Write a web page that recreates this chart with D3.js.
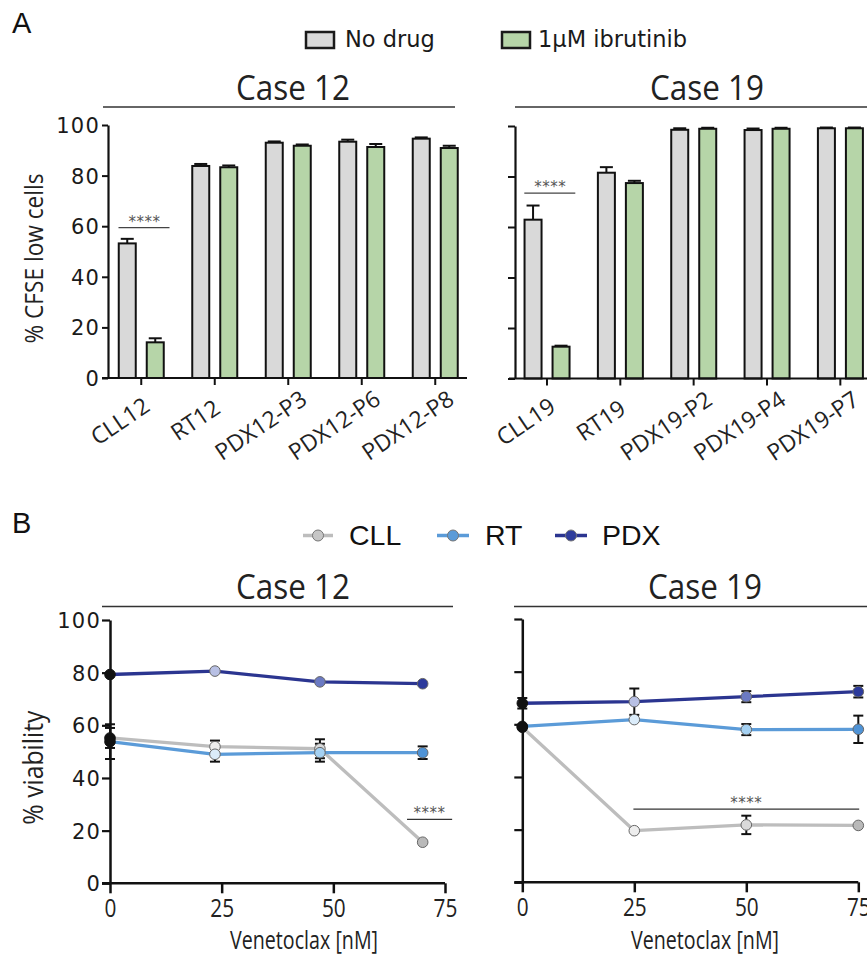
<!DOCTYPE html>
<html>
<head>
<meta charset="utf-8">
<script src="https://cdn.jsdelivr.net/npm/d3@7"></script>
<style>
html,body{margin:0;padding:0;background:#fff;}
svg{display:block;}
</style>
</head>
<body>
<script>
// ---------------- DATA ----------------
// Panel A: % CFSE low cells
const catsA12 = ["CLL12", "RT12", "PDX12-P3", "PDX12-P6", "PDX12-P8"];
const noDrug12 = [53.2, 83.8, 93.0, 93.4, 94.6];
const noDrug12Err = [1.8, 0.8, 0.5, 0.8, 0.5];
const ibru12 = [14.1, 83.3, 91.8, 91.3, 90.9];
const ibru12Err = [1.6, 0.7, 0.5, 1.2, 0.9];

const catsA19 = ["CLL19", "RT19", "PDX19-P2", "PDX19-P4", "PDX19-P7"];
const noDrug19 = [62.9, 81.5, 98.5, 98.4, 99.1];
const noDrug19Err = [5.6, 2.2, 0.6, 0.6, 0.3];
const ibru19 = [12.6, 77.4, 98.9, 98.9, 99.1];
const ibru19Err = [0.4, 0.9, 0.4, 0.4, 0.3];

const yTicksA = [0, 20, 40, 60, 80, 100];
const legendA = ["No drug", "1\u03bcM ibrutinib"];

// Panel B: % viability vs venetoclax
const dose12 = [0, 23.5, 47, 70];
const dose19 = [0, 25, 50, 75];
const cll12 = [55.2, 51.9, 51.1, 15.6];
const cll12Err = [3.8, 2.3, 3.6, 0.5];
const rt12 = [53.8, 49.0, 49.6, 49.6];
const rt12Err = [6.6, 2.8, 3.4, 2.4];
const pdx12 = [79.3, 80.6, 76.5, 75.8];
const pdx12Err = [0.8, 0.6, 0.8, 0.6];

const cll19 = [58.9, 19.6, 21.8, 21.6];
const cll19Err = [0.5, 0.5, 3.5, 0.6];
const rt19 = [59.2, 61.8, 58.0, 58.1];
const rt19Err = [0.5, 0.8, 2.1, 5.2];
const pdx19 = [68.0, 68.6, 70.5, 72.4];
const pdx19Err = [2.0, 5.0, 2.1, 2.2];

const xTicksB = [0, 25, 50, 75];
const yTicksB = [0, 20, 40, 60, 80, 100];
const seriesB = ["CLL", "RT", "PDX"];

// ---------------- STYLE ----------------
const C = {
  grayBar: "#d9d9d9",
  greenBar: "#b6d5a8",
  cllLine: "#bdbdbd",
  rtLine: "#5b9bd8",
  pdxLine: "#2b3590",
  cllFill: ["#111111", "#ededed", "#dadada", "#b9b9b9"],
  rtFill: ["#111111", "#dbecfa", "#a5d1f2", "#4f93d6"],
  pdxFill: ["#111111", "#b8c0e4", "#6b7ac3", "#2c3a9c"]
};
const ROUND = "'DejaVu Sans', sans-serif";
const HUM = "'Open Sans', sans-serif";
const ARIAL = "'Liberation Sans', Arial, sans-serif";
const INK = "#1a1a1a";

const W = 867, H = 956;
const svg = d3.select("body").append("svg").attr("width", W).attr("height", H);

function condense(sel, target) {
  sel.each(function () {
    const t = d3.select(this);
    const len = this.getComputedTextLength();
    const L = typeof target === "function" ? target(len) : target;
    t.attr("textLength", L).attr("lengthAdjust", "spacingAndGlyphs");
  });
}

// panel letters
svg.append("text").attr("x", 12).attr("y", 33).text("A")
  .attr("font-family", ARIAL).attr("font-size", 29).attr("fill", "#111");
svg.append("text").attr("x", 12).attr("y", 533).text("B")
  .attr("font-family", ARIAL).attr("font-size", 29).attr("fill", "#111");

// ---------------- PANEL A legend ----------------
const legA = svg.append("g");
const legAPos = [{bx: 306, tx: 345, fill: C.grayBar}, {bx: 502, tx: 538, fill: C.greenBar}];
legendA.forEach((lab, i) => {
  legA.append("rect").attr("x", legAPos[i].bx).attr("y", 32).attr("width", 28).attr("height", 16)
    .attr("fill", legAPos[i].fill).attr("stroke", "#1a1a1a").attr("stroke-width", 2.5);
  legA.append("text").attr("x", legAPos[i].tx).attr("y", 47).text(lab)
    .attr("font-family", ROUND).attr("font-size", 22.5).attr("fill", INK);
});

// ---------------- PANEL A charts ----------------
const panelsA = [
  {cats: catsA12, nd: noDrug12, ndE: noDrug12Err, ib: ibru12, ibE: ibru12Err,
   range: [104.5, 472], axisX: 108, yTop: 125, yBot: 378, axisEnd: 467,
   title: "Case 12", titleX: 293, tl: [103, 455], labels: true, sigVal: 59.4},
  {cats: catsA19, nd: noDrug19, ndE: noDrug19Err, ib: ibru19, ibE: ibru19Err,
   range: [510.3, 877], axisX: 515, yTop: 126, yBot: 378.5, axisEnd: 870,
   title: "Case 19", titleX: 707, tl: [515, 870], labels: false, sigVal: 73.4}
];

panelsA.forEach(p => {
  const g = svg.append("g");
  const x = d3.scaleBand().domain(p.cats).range(p.range);
  const xs = d3.scaleBand().domain(["nd", "ib"]).range([14.25, 59.25]).paddingInner(11 / 28);
  const y = d3.scaleLinear().domain([0, 100]).range([p.yBot, p.yTop]);

  // title + line
  const tt = g.append("text").attr("x", p.titleX).attr("y", 100).attr("text-anchor", "middle")
    .text(p.title).attr("font-family", HUM).attr("font-size", 35).attr("fill", "#222");
  condense(tt, 114);
  g.append("line").attr("x1", p.tl[0]).attr("x2", p.tl[1]).attr("y1", 107).attr("y2", 107)
    .attr("stroke", "#333").attr("stroke-width", 1.5);

  const rows = p.cats.map((c, i) => ({c, i}));
  const series = [
    {key: "nd", vals: p.nd, errs: p.ndE, fill: C.grayBar},
    {key: "ib", vals: p.ib, errs: p.ibE, fill: C.greenBar}
  ];
  series.forEach(s => {
    const eg = g.append("g");
    rows.forEach(r => {
      const cx = x(r.c) + xs(s.key) + xs.bandwidth() / 2;
      const top = y(s.vals[r.i] + s.errs[r.i]);
      eg.append("line").attr("x1", cx).attr("x2", cx).attr("y1", y(s.vals[r.i])).attr("y2", top)
        .attr("stroke", "#111").attr("stroke-width", 2);
      eg.append("line").attr("x1", cx - 6.5).attr("x2", cx + 6.5).attr("y1", top).attr("y2", top)
        .attr("stroke", "#111").attr("stroke-width", 2);
    });
    g.append("g").selectAll("rect").data(rows).join("rect")
      .attr("x", r => x(r.c) + xs(s.key))
      .attr("y", r => y(s.vals[r.i]))
      .attr("width", xs.bandwidth())
      .attr("height", r => y(0) - y(s.vals[r.i]))
      .attr("fill", s.fill).attr("stroke", "#111").attr("stroke-width", 2);
  });

  // y axis
  const ya = g.append("g").attr("transform", `translate(${p.axisX},0)`)
    .call(d3.axisLeft(y).tickValues(yTicksA).tickSize(p.labels ? 6 : 7).tickSizeOuter(0).tickPadding(2)
      .tickFormat(p.labels ? d3.format("d") : () => ""));
  ya.select(".domain").attr("stroke", "#111").attr("stroke-width", 2.2);
  ya.selectAll(".tick line").attr("stroke", "#111").attr("stroke-width", 2);
  ya.selectAll(".tick text").attr("font-family", ROUND).attr("font-size", 21)
    .attr("fill", INK).attr("letter-spacing", 1.2).attr("dy", "0.36em");

  // x axis
  g.append("line").attr("x1", p.axisX - 6).attr("x2", p.axisEnd).attr("y1", y(0)).attr("y2", y(0))
    .attr("stroke", "#111").attr("stroke-width", 2.2);
  const xa = g.append("g").attr("transform", `translate(0,${y(0)})`)
    .call(d3.axisBottom(x).tickSize(7).tickSizeOuter(0).tickPadding(4));
  xa.select(".domain").remove();
  xa.selectAll(".tick line").attr("stroke", "#111").attr("stroke-width", 2);
  xa.selectAll(".tick text")
    .attr("font-family", HUM).attr("font-size", 23).attr("fill", "#222")
    .attr("text-anchor", "start").attr("dy", 0).attr("y", 0)
    .attr("transform", "translate(-6.5,43) rotate(-34)")
    .each(function () { d3.select(this).attr("x", -0.69 * this.getComputedTextLength()); });

  // significance
  const c0 = p.cats[0];
  const sy = y(p.sigVal);
  g.append("line").attr("x1", x(c0) + 14).attr("x2", x(c0) + 65).attr("y1", sy).attr("y2", sy)
    .attr("stroke", "#444").attr("stroke-width", 1.3);
  g.append("text").attr("x", x(c0) + 40).attr("y", sy - 1).attr("text-anchor", "middle")
    .text("****").attr("font-family", ROUND).attr("font-size", 15).attr("fill", "#555")
    .attr("letter-spacing", 0.5);

  // y label
  if (p.labels) {
    const yl = g.append("text").attr("transform", `translate(43,${(p.yTop + p.yBot) / 2 + 7}) rotate(-90)`)
      .attr("text-anchor", "middle").text("% CFSE low cells")
      .attr("font-family", HUM).attr("font-size", 26).attr("fill", "#222");
    condense(yl, 170);
  }
});

// ---------------- PANEL B legend ----------------
const legB = svg.append("g");
const legBItems = [
  {name: seriesB[0], line: C.cllLine, fill: "#c6c6c6", x0: 303, x1: 333, tx: 349},
  {name: seriesB[1], line: C.rtLine, fill: "#5b9bd8", x0: 437, x1: 469, tx: 485},
  {name: seriesB[2], line: C.pdxLine, fill: "#2f3d9c", x0: 555, x1: 587, tx: 602}
];
legBItems.forEach(it => {
  legB.append("line").attr("x1", it.x0).attr("x2", it.x1).attr("y1", 535.5).attr("y2", 535.5)
    .attr("stroke", it.line).attr("stroke-width", 3.5);
  legB.append("circle").attr("cx", (it.x0 + it.x1) / 2).attr("cy", 535.5).attr("r", 5.5)
    .attr("fill", it.fill).attr("stroke", "#777").attr("stroke-width", 1);
  legB.append("text").attr("x", it.tx).attr("y", 544.5).text(it.name)
    .attr("font-family", ARIAL).attr("font-size", 28.5).attr("fill", "#111");
});

// ---------------- PANEL B charts ----------------
const panelsB = [
  {dose: dose12, cll: cll12, cllE: cll12Err, rt: rt12, rtE: rt12Err, pdx: pdx12, pdxE: pdx12Err,
   xr: [110, 445], yr: [883.3, 620], title: "Case 12", titleX: 293, tl: [102, 453], labels: true,
   sig: {d0: 66.5, d1: 76.6, v: 24.3}, xlabX: 304},
  {dose: dose19, cll: cll19, cllE: cll19Err, rt: rt19, rtE: rt19Err, pdx: pdx19, pdxE: pdx19Err,
   xr: [522.3, 858.3], yr: [882.3, 619], title: "Case 19", titleX: 705, tl: [514, 870], labels: false,
   sig: {d0: 24.8, d1: 75.2, v: 27.8}, xlabX: 705}
];

panelsB.forEach(p => {
  const g = svg.append("g");
  const x = d3.scaleLinear().domain([0, 75]).range(p.xr);
  const y = d3.scaleLinear().domain([0, 100]).range(p.yr);

  const tt = g.append("text").attr("x", p.titleX).attr("y", 599).attr("text-anchor", "middle")
    .text(p.title).attr("font-family", HUM).attr("font-size", 35).attr("fill", "#222");
  condense(tt, 114);
  g.append("line").attr("x1", p.tl[0]).attr("x2", p.tl[1]).attr("y1", 606.5).attr("y2", 606.5)
    .attr("stroke", "#333").attr("stroke-width", 1.5);

  // axes
  const ya = g.append("g").attr("transform", `translate(${p.xr[0]},0)`)
    .call(d3.axisLeft(y).tickValues(yTicksB).tickSize(8).tickSizeOuter(0).tickPadding(1)
      .tickFormat(p.labels ? d3.format("d") : () => ""));
  ya.select(".domain").attr("stroke", "#111").attr("stroke-width", 2.5);
  ya.selectAll(".tick line").attr("stroke", "#111").attr("stroke-width", 2.2);
  ya.selectAll(".tick text").attr("font-family", ROUND).attr("font-size", 21)
    .attr("fill", INK).attr("letter-spacing", 1.2).attr("dy", "0.36em");

  g.append("line").attr("x1", p.xr[0] - 8).attr("x2", p.xr[1]).attr("y1", y(0)).attr("y2", y(0))
    .attr("stroke", "#111").attr("stroke-width", 2.5);
  const xa = g.append("g").attr("transform", `translate(0,${y(0)})`)
    .call(d3.axisBottom(x).tickValues(xTicksB).tickSize(10).tickSizeOuter(0).tickPadding(3));
  xa.select(".domain").remove();
  xa.selectAll(".tick line").attr("stroke", "#111").attr("stroke-width", 2.5);
  const xt = xa.selectAll(".tick text").attr("font-family", HUM).attr("font-size", 26)
    .attr("fill", "#222").attr("dy", "0.78em");
  condense(xt, len => len * 0.8);

  const xl = g.append("text").attr("x", p.xlabX).attr("y", 949).attr("text-anchor", "middle")
    .text("Venetoclax [nM]").attr("font-family", HUM).attr("font-size", 25).attr("fill", "#222");
  condense(xl, 148);

  if (p.labels) {
    const yl = g.append("text").attr("transform", `translate(43,${(p.yr[0] + p.yr[1]) / 2 + 16}) rotate(-90)`)
      .attr("text-anchor", "middle").text("% viability")
      .attr("font-family", HUM).attr("font-size", 27).attr("fill", "#222");
    condense(yl, 114);
  }

  const sers = [
    {vals: p.cll, errs: p.cllE, line: C.cllLine, fills: C.cllFill},
    {vals: p.rt, errs: p.rtE, line: C.rtLine, fills: C.rtFill},
    {vals: p.pdx, errs: p.pdxE, line: C.pdxLine, fills: C.pdxFill}
  ];
  const lineGen = d3.line().x(d => x(d.d)).y(d => y(d.v));
  sers.forEach(s => {
    const pts = p.dose.map((d, i) => ({d, v: s.vals[i]}));
    g.append("path").datum(pts).attr("d", lineGen).attr("fill", "none")
      .attr("stroke", s.line).attr("stroke-width", 3.3).attr("stroke-linejoin", "round");
  });
  sers.forEach(s => {
    const pts = p.dose.map((d, i) => ({d, v: s.vals[i], e: s.errs[i]}));
    const eg = g.append("g");
    pts.forEach(pt => {
      if (pt.e < 1) return;
      const cx = x(pt.d), t = y(pt.v + pt.e), b = y(pt.v - pt.e);
      eg.append("line").attr("x1", cx).attr("x2", cx).attr("y1", t).attr("y2", b)
        .attr("stroke", "#111").attr("stroke-width", 2);
      [t, b].forEach(yy => eg.append("line").attr("x1", cx - 5).attr("x2", cx + 5)
        .attr("y1", yy).attr("y2", yy).attr("stroke", "#111").attr("stroke-width", 2));
    });
  });
  sers.forEach(s => {
    const pts = p.dose.map((d, i) => ({d, v: s.vals[i], i}));
    g.append("g").selectAll("circle").data(pts).join("circle")
      .attr("cx", d => x(d.d)).attr("cy", d => y(d.v)).attr("r", 5.3)
      .attr("fill", d => s.fills[d.i]).attr("stroke", d => d.i === 0 ? "#111" : "#666")
      .attr("stroke-width", 1);
  });

  // significance
  const sy = y(p.sig.v);
  g.append("line").attr("x1", x(p.sig.d0)).attr("x2", x(p.sig.d1)).attr("y1", sy).attr("y2", sy)
    .attr("stroke", "#333").attr("stroke-width", 1.3);
  g.append("text").attr("x", (x(p.sig.d0) + x(p.sig.d1)) / 2).attr("y", sy - 1).attr("text-anchor", "middle")
    .text("****").attr("font-family", ROUND).attr("font-size", 15).attr("fill", "#555")
    .attr("letter-spacing", 0.5);
});
</script>
</body>
</html>
